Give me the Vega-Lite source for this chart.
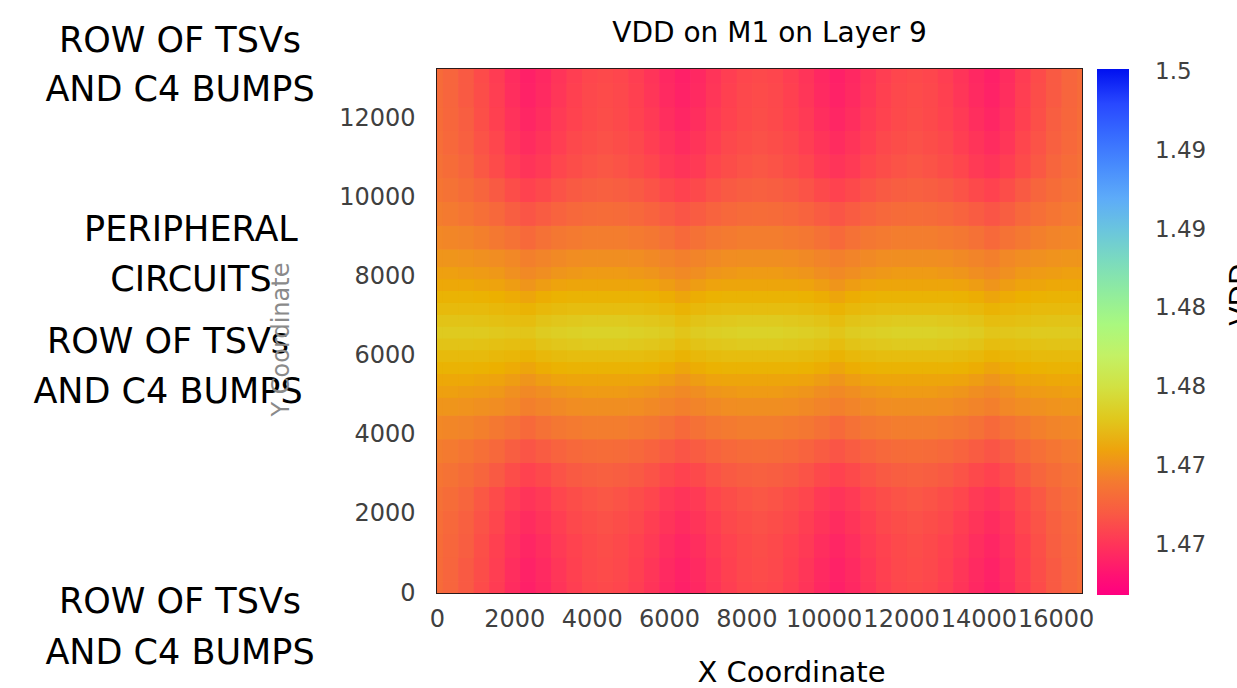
{
"$schema": "https://vega.github.io/schema/vega-lite/v6.json",
"width": 645, "height": 524,
"autosize": "none",
"padding": {"left": 437, "top": 69, "right": 155, "bottom": 95},
"background": "white",
"title": {"text": "VDD on M1 on Layer 9", "frame": "group", "anchor": "middle", "dx": 10, "offset": -46, "baseline": "alphabetic", "font": "DejaVu Sans", "fontSize": 28, "fontWeight": "normal", "color": "#000"},
"config": {"view": {"stroke": "#2a1a1a", "strokeWidth": 2}, "font": "DejaVu Sans"},
"datasets": {
"coarse": [
{"x":-60,"y":0,"v":1.473},{"x":340,"y":0,"v":1.4726},{"x":740,"y":0,"v":1.472},{"x":1140,"y":0,"v":1.4712},{"x":1540,"y":0,"v":1.4704},{"x":1940,"y":0,"v":1.4696},{"x":2340,"y":0,"v":1.469},{"x":2740,"y":0,"v":1.4694},{"x":3140,"y":0,"v":1.47},{"x":3540,"y":0,"v":1.4705},{"x":3940,"y":0,"v":1.4709},{"x":4340,"y":0,"v":1.4711},{"x":4740,"y":0,"v":1.4709},{"x":5140,"y":0,"v":1.4705},{"x":5540,"y":0,"v":1.47},{"x":5940,"y":0,"v":1.4694},{"x":6340,"y":0,"v":1.469},{"x":6740,"y":0,"v":1.4694},{"x":7140,"y":0,"v":1.47},{"x":7540,"y":0,"v":1.4705},{"x":7940,"y":0,"v":1.4709},{"x":8340,"y":0,"v":1.4711},{"x":8740,"y":0,"v":1.4709},{"x":9140,"y":0,"v":1.4705},{"x":9540,"y":0,"v":1.47},{"x":9940,"y":0,"v":1.4694},{"x":10340,"y":0,"v":1.469},{"x":10740,"y":0,"v":1.4694},{"x":11140,"y":0,"v":1.47},{"x":11540,"y":0,"v":1.4705},{"x":11940,"y":0,"v":1.4709},{"x":12340,"y":0,"v":1.4711},{"x":12740,"y":0,"v":1.4709},{"x":13140,"y":0,"v":1.4705},{"x":13540,"y":0,"v":1.47},{"x":13940,"y":0,"v":1.4694},{"x":14340,"y":0,"v":1.469},{"x":14740,"y":0,"v":1.4696},{"x":15140,"y":0,"v":1.4704},{"x":15540,"y":0,"v":1.4712},{"x":15940,"y":0,"v":1.472},{"x":16340,"y":0,"v":1.4726},{"x":16740,"y":0,"v":1.473},
{"x":-60,"y":600,"v":1.473},{"x":340,"y":600,"v":1.4726},{"x":740,"y":600,"v":1.472},{"x":1140,"y":600,"v":1.4713},{"x":1540,"y":600,"v":1.4705},{"x":1940,"y":600,"v":1.4697},{"x":2340,"y":600,"v":1.4691},{"x":2740,"y":600,"v":1.4695},{"x":3140,"y":600,"v":1.4701},{"x":3540,"y":600,"v":1.4706},{"x":3940,"y":600,"v":1.471},{"x":4340,"y":600,"v":1.4712},{"x":4740,"y":600,"v":1.471},{"x":5140,"y":600,"v":1.4706},{"x":5540,"y":600,"v":1.4701},{"x":5940,"y":600,"v":1.4695},{"x":6340,"y":600,"v":1.4691},{"x":6740,"y":600,"v":1.4695},{"x":7140,"y":600,"v":1.4701},{"x":7540,"y":600,"v":1.4706},{"x":7940,"y":600,"v":1.471},{"x":8340,"y":600,"v":1.4712},{"x":8740,"y":600,"v":1.471},{"x":9140,"y":600,"v":1.4706},{"x":9540,"y":600,"v":1.4701},{"x":9940,"y":600,"v":1.4695},{"x":10340,"y":600,"v":1.4691},{"x":10740,"y":600,"v":1.4695},{"x":11140,"y":600,"v":1.4701},{"x":11540,"y":600,"v":1.4706},{"x":11940,"y":600,"v":1.471},{"x":12340,"y":600,"v":1.4712},{"x":12740,"y":600,"v":1.471},{"x":13140,"y":600,"v":1.4706},{"x":13540,"y":600,"v":1.4701},{"x":13940,"y":600,"v":1.4695},{"x":14340,"y":600,"v":1.4691},{"x":14740,"y":600,"v":1.4697},{"x":15140,"y":600,"v":1.4705},{"x":15540,"y":600,"v":1.4713},{"x":15940,"y":600,"v":1.472},{"x":16340,"y":600,"v":1.4726},{"x":16740,"y":600,"v":1.473},
{"x":-60,"y":1200,"v":1.4731},{"x":340,"y":1200,"v":1.4727},{"x":740,"y":1200,"v":1.4722},{"x":1140,"y":1200,"v":1.4714},{"x":1540,"y":1200,"v":1.4706},{"x":1940,"y":1200,"v":1.4699},{"x":2340,"y":1200,"v":1.4693},{"x":2740,"y":1200,"v":1.4697},{"x":3140,"y":1200,"v":1.4703},{"x":3540,"y":1200,"v":1.4707},{"x":3940,"y":1200,"v":1.4711},{"x":4340,"y":1200,"v":1.4713},{"x":4740,"y":1200,"v":1.4711},{"x":5140,"y":1200,"v":1.4707},{"x":5540,"y":1200,"v":1.4703},{"x":5940,"y":1200,"v":1.4697},{"x":6340,"y":1200,"v":1.4693},{"x":6740,"y":1200,"v":1.4697},{"x":7140,"y":1200,"v":1.4703},{"x":7540,"y":1200,"v":1.4707},{"x":7940,"y":1200,"v":1.4711},{"x":8340,"y":1200,"v":1.4713},{"x":8740,"y":1200,"v":1.4711},{"x":9140,"y":1200,"v":1.4707},{"x":9540,"y":1200,"v":1.4703},{"x":9940,"y":1200,"v":1.4697},{"x":10340,"y":1200,"v":1.4693},{"x":10740,"y":1200,"v":1.4697},{"x":11140,"y":1200,"v":1.4703},{"x":11540,"y":1200,"v":1.4707},{"x":11940,"y":1200,"v":1.4711},{"x":12340,"y":1200,"v":1.4713},{"x":12740,"y":1200,"v":1.4711},{"x":13140,"y":1200,"v":1.4707},{"x":13540,"y":1200,"v":1.4703},{"x":13940,"y":1200,"v":1.4697},{"x":14340,"y":1200,"v":1.4693},{"x":14740,"y":1200,"v":1.4699},{"x":15140,"y":1200,"v":1.4706},{"x":15540,"y":1200,"v":1.4714},{"x":15940,"y":1200,"v":1.4722},{"x":16340,"y":1200,"v":1.4727},{"x":16740,"y":1200,"v":1.4731},
{"x":-60,"y":1800,"v":1.4732},{"x":340,"y":1800,"v":1.4728},{"x":740,"y":1800,"v":1.4723},{"x":1140,"y":1800,"v":1.4716},{"x":1540,"y":1800,"v":1.4709},{"x":1940,"y":1800,"v":1.4701},{"x":2340,"y":1800,"v":1.4696},{"x":2740,"y":1800,"v":1.47},{"x":3140,"y":1800,"v":1.4705},{"x":3540,"y":1800,"v":1.471},{"x":3940,"y":1800,"v":1.4713},{"x":4340,"y":1800,"v":1.4715},{"x":4740,"y":1800,"v":1.4713},{"x":5140,"y":1800,"v":1.471},{"x":5540,"y":1800,"v":1.4705},{"x":5940,"y":1800,"v":1.47},{"x":6340,"y":1800,"v":1.4696},{"x":6740,"y":1800,"v":1.47},{"x":7140,"y":1800,"v":1.4705},{"x":7540,"y":1800,"v":1.471},{"x":7940,"y":1800,"v":1.4713},{"x":8340,"y":1800,"v":1.4715},{"x":8740,"y":1800,"v":1.4713},{"x":9140,"y":1800,"v":1.471},{"x":9540,"y":1800,"v":1.4705},{"x":9940,"y":1800,"v":1.47},{"x":10340,"y":1800,"v":1.4696},{"x":10740,"y":1800,"v":1.47},{"x":11140,"y":1800,"v":1.4705},{"x":11540,"y":1800,"v":1.471},{"x":11940,"y":1800,"v":1.4713},{"x":12340,"y":1800,"v":1.4715},{"x":12740,"y":1800,"v":1.4713},{"x":13140,"y":1800,"v":1.471},{"x":13540,"y":1800,"v":1.4705},{"x":13940,"y":1800,"v":1.47},{"x":14340,"y":1800,"v":1.4696},{"x":14740,"y":1800,"v":1.4701},{"x":15140,"y":1800,"v":1.4709},{"x":15540,"y":1800,"v":1.4716},{"x":15940,"y":1800,"v":1.4723},{"x":16340,"y":1800,"v":1.4728},{"x":16740,"y":1800,"v":1.4732},
{"x":-60,"y":2400,"v":1.4734},{"x":340,"y":2400,"v":1.4731},{"x":740,"y":2400,"v":1.4726},{"x":1140,"y":2400,"v":1.4719},{"x":1540,"y":2400,"v":1.4712},{"x":1940,"y":2400,"v":1.4705},{"x":2340,"y":2400,"v":1.47},{"x":2740,"y":2400,"v":1.4703},{"x":3140,"y":2400,"v":1.4709},{"x":3540,"y":2400,"v":1.4713},{"x":3940,"y":2400,"v":1.4716},{"x":4340,"y":2400,"v":1.4718},{"x":4740,"y":2400,"v":1.4716},{"x":5140,"y":2400,"v":1.4713},{"x":5540,"y":2400,"v":1.4709},{"x":5940,"y":2400,"v":1.4703},{"x":6340,"y":2400,"v":1.47},{"x":6740,"y":2400,"v":1.4703},{"x":7140,"y":2400,"v":1.4709},{"x":7540,"y":2400,"v":1.4713},{"x":7940,"y":2400,"v":1.4716},{"x":8340,"y":2400,"v":1.4718},{"x":8740,"y":2400,"v":1.4716},{"x":9140,"y":2400,"v":1.4713},{"x":9540,"y":2400,"v":1.4709},{"x":9940,"y":2400,"v":1.4703},{"x":10340,"y":2400,"v":1.47},{"x":10740,"y":2400,"v":1.4703},{"x":11140,"y":2400,"v":1.4709},{"x":11540,"y":2400,"v":1.4713},{"x":11940,"y":2400,"v":1.4716},{"x":12340,"y":2400,"v":1.4718},{"x":12740,"y":2400,"v":1.4716},{"x":13140,"y":2400,"v":1.4713},{"x":13540,"y":2400,"v":1.4709},{"x":13940,"y":2400,"v":1.4703},{"x":14340,"y":2400,"v":1.47},{"x":14740,"y":2400,"v":1.4705},{"x":15140,"y":2400,"v":1.4712},{"x":15540,"y":2400,"v":1.4719},{"x":15940,"y":2400,"v":1.4726},{"x":16340,"y":2400,"v":1.4731},{"x":16740,"y":2400,"v":1.4734},
{"x":-60,"y":3000,"v":1.4737},{"x":340,"y":3000,"v":1.4735},{"x":740,"y":3000,"v":1.4731},{"x":1140,"y":3000,"v":1.4726},{"x":1540,"y":3000,"v":1.472},{"x":1940,"y":3000,"v":1.4713},{"x":2340,"y":3000,"v":1.4707},{"x":2740,"y":3000,"v":1.4711},{"x":3140,"y":3000,"v":1.4716},{"x":3540,"y":3000,"v":1.472},{"x":3940,"y":3000,"v":1.4722},{"x":4340,"y":3000,"v":1.4723},{"x":4740,"y":3000,"v":1.4722},{"x":5140,"y":3000,"v":1.472},{"x":5540,"y":3000,"v":1.4716},{"x":5940,"y":3000,"v":1.4711},{"x":6340,"y":3000,"v":1.4707},{"x":6740,"y":3000,"v":1.4711},{"x":7140,"y":3000,"v":1.4716},{"x":7540,"y":3000,"v":1.472},{"x":7940,"y":3000,"v":1.4722},{"x":8340,"y":3000,"v":1.4723},{"x":8740,"y":3000,"v":1.4722},{"x":9140,"y":3000,"v":1.472},{"x":9540,"y":3000,"v":1.4716},{"x":9940,"y":3000,"v":1.4711},{"x":10340,"y":3000,"v":1.4707},{"x":10740,"y":3000,"v":1.4711},{"x":11140,"y":3000,"v":1.4716},{"x":11540,"y":3000,"v":1.472},{"x":11940,"y":3000,"v":1.4722},{"x":12340,"y":3000,"v":1.4723},{"x":12740,"y":3000,"v":1.4722},{"x":13140,"y":3000,"v":1.472},{"x":13540,"y":3000,"v":1.4716},{"x":13940,"y":3000,"v":1.4711},{"x":14340,"y":3000,"v":1.4707},{"x":14740,"y":3000,"v":1.4713},{"x":15140,"y":3000,"v":1.472},{"x":15540,"y":3000,"v":1.4726},{"x":15940,"y":3000,"v":1.4731},{"x":16340,"y":3000,"v":1.4735},{"x":16740,"y":3000,"v":1.4737},
{"x":-60,"y":3600,"v":1.4742},{"x":340,"y":3600,"v":1.474},{"x":740,"y":3600,"v":1.4737},{"x":1140,"y":3600,"v":1.4733},{"x":1540,"y":3600,"v":1.4728},{"x":1940,"y":3600,"v":1.4722},{"x":2340,"y":3600,"v":1.4717},{"x":2740,"y":3600,"v":1.4721},{"x":3140,"y":3600,"v":1.4725},{"x":3540,"y":3600,"v":1.4728},{"x":3940,"y":3600,"v":1.473},{"x":4340,"y":3600,"v":1.4731},{"x":4740,"y":3600,"v":1.473},{"x":5140,"y":3600,"v":1.4728},{"x":5540,"y":3600,"v":1.4725},{"x":5940,"y":3600,"v":1.4721},{"x":6340,"y":3600,"v":1.4717},{"x":6740,"y":3600,"v":1.4721},{"x":7140,"y":3600,"v":1.4725},{"x":7540,"y":3600,"v":1.4728},{"x":7940,"y":3600,"v":1.473},{"x":8340,"y":3600,"v":1.4731},{"x":8740,"y":3600,"v":1.473},{"x":9140,"y":3600,"v":1.4728},{"x":9540,"y":3600,"v":1.4725},{"x":9940,"y":3600,"v":1.4721},{"x":10340,"y":3600,"v":1.4717},{"x":10740,"y":3600,"v":1.4721},{"x":11140,"y":3600,"v":1.4725},{"x":11540,"y":3600,"v":1.4728},{"x":11940,"y":3600,"v":1.473},{"x":12340,"y":3600,"v":1.4731},{"x":12740,"y":3600,"v":1.473},{"x":13140,"y":3600,"v":1.4728},{"x":13540,"y":3600,"v":1.4725},{"x":13940,"y":3600,"v":1.4721},{"x":14340,"y":3600,"v":1.4717},{"x":14740,"y":3600,"v":1.4722},{"x":15140,"y":3600,"v":1.4728},{"x":15540,"y":3600,"v":1.4733},{"x":15940,"y":3600,"v":1.4737},{"x":16340,"y":3600,"v":1.474},{"x":16740,"y":3600,"v":1.4742},
{"x":-60,"y":4200,"v":1.4748},{"x":340,"y":4200,"v":1.4747},{"x":740,"y":4200,"v":1.4746},{"x":1140,"y":4200,"v":1.4743},{"x":1540,"y":4200,"v":1.4739},{"x":1940,"y":4200,"v":1.4735},{"x":2340,"y":4200,"v":1.4729},{"x":2740,"y":4200,"v":1.4734},{"x":3140,"y":4200,"v":1.4738},{"x":3540,"y":4200,"v":1.474},{"x":3940,"y":4200,"v":1.4742},{"x":4340,"y":4200,"v":1.4742},{"x":4740,"y":4200,"v":1.4742},{"x":5140,"y":4200,"v":1.474},{"x":5540,"y":4200,"v":1.4738},{"x":5940,"y":4200,"v":1.4734},{"x":6340,"y":4200,"v":1.4729},{"x":6740,"y":4200,"v":1.4734},{"x":7140,"y":4200,"v":1.4738},{"x":7540,"y":4200,"v":1.474},{"x":7940,"y":4200,"v":1.4742},{"x":8340,"y":4200,"v":1.4742},{"x":8740,"y":4200,"v":1.4742},{"x":9140,"y":4200,"v":1.474},{"x":9540,"y":4200,"v":1.4738},{"x":9940,"y":4200,"v":1.4734},{"x":10340,"y":4200,"v":1.4729},{"x":10740,"y":4200,"v":1.4734},{"x":11140,"y":4200,"v":1.4738},{"x":11540,"y":4200,"v":1.474},{"x":11940,"y":4200,"v":1.4742},{"x":12340,"y":4200,"v":1.4742},{"x":12740,"y":4200,"v":1.4742},{"x":13140,"y":4200,"v":1.474},{"x":13540,"y":4200,"v":1.4738},{"x":13940,"y":4200,"v":1.4734},{"x":14340,"y":4200,"v":1.4729},{"x":14740,"y":4200,"v":1.4735},{"x":15140,"y":4200,"v":1.4739},{"x":15540,"y":4200,"v":1.4743},{"x":15940,"y":4200,"v":1.4746},{"x":16340,"y":4200,"v":1.4747},{"x":16740,"y":4200,"v":1.4748},
{"x":-60,"y":4800,"v":1.4755},{"x":340,"y":4800,"v":1.4755},{"x":740,"y":4800,"v":1.4754},{"x":1140,"y":4800,"v":1.4753},{"x":1540,"y":4800,"v":1.4751},{"x":1940,"y":4800,"v":1.4748},{"x":2340,"y":4800,"v":1.4743},{"x":2740,"y":4800,"v":1.4746},{"x":3140,"y":4800,"v":1.4749},{"x":3540,"y":4800,"v":1.4751},{"x":3940,"y":4800,"v":1.4752},{"x":4340,"y":4800,"v":1.4752},{"x":4740,"y":4800,"v":1.4752},{"x":5140,"y":4800,"v":1.4751},{"x":5540,"y":4800,"v":1.4749},{"x":5940,"y":4800,"v":1.4746},{"x":6340,"y":4800,"v":1.4743},{"x":6740,"y":4800,"v":1.4746},{"x":7140,"y":4800,"v":1.4749},{"x":7540,"y":4800,"v":1.4751},{"x":7940,"y":4800,"v":1.4752},{"x":8340,"y":4800,"v":1.4752},{"x":8740,"y":4800,"v":1.4752},{"x":9140,"y":4800,"v":1.4751},{"x":9540,"y":4800,"v":1.4749},{"x":9940,"y":4800,"v":1.4746},{"x":10340,"y":4800,"v":1.4743},{"x":10740,"y":4800,"v":1.4746},{"x":11140,"y":4800,"v":1.4749},{"x":11540,"y":4800,"v":1.4751},{"x":11940,"y":4800,"v":1.4752},{"x":12340,"y":4800,"v":1.4752},{"x":12740,"y":4800,"v":1.4752},{"x":13140,"y":4800,"v":1.4751},{"x":13540,"y":4800,"v":1.4749},{"x":13940,"y":4800,"v":1.4746},{"x":14340,"y":4800,"v":1.4743},{"x":14740,"y":4800,"v":1.4748},{"x":15140,"y":4800,"v":1.4751},{"x":15540,"y":4800,"v":1.4753},{"x":15940,"y":4800,"v":1.4754},{"x":16340,"y":4800,"v":1.4755},{"x":16740,"y":4800,"v":1.4755},
{"x":-60,"y":5400,"v":1.4762},{"x":340,"y":5400,"v":1.4762},{"x":740,"y":5400,"v":1.4762},{"x":1140,"y":5400,"v":1.4761},{"x":1540,"y":5400,"v":1.476},{"x":1940,"y":5400,"v":1.4758},{"x":2340,"y":5400,"v":1.4755},{"x":2740,"y":5400,"v":1.4758},{"x":3140,"y":5400,"v":1.476},{"x":3540,"y":5400,"v":1.4761},{"x":3940,"y":5400,"v":1.4761},{"x":4340,"y":5400,"v":1.4761},{"x":4740,"y":5400,"v":1.4761},{"x":5140,"y":5400,"v":1.4761},{"x":5540,"y":5400,"v":1.476},{"x":5940,"y":5400,"v":1.4758},{"x":6340,"y":5400,"v":1.4755},{"x":6740,"y":5400,"v":1.4758},{"x":7140,"y":5400,"v":1.476},{"x":7540,"y":5400,"v":1.4761},{"x":7940,"y":5400,"v":1.4761},{"x":8340,"y":5400,"v":1.4761},{"x":8740,"y":5400,"v":1.4761},{"x":9140,"y":5400,"v":1.4761},{"x":9540,"y":5400,"v":1.476},{"x":9940,"y":5400,"v":1.4758},{"x":10340,"y":5400,"v":1.4755},{"x":10740,"y":5400,"v":1.4758},{"x":11140,"y":5400,"v":1.476},{"x":11540,"y":5400,"v":1.4761},{"x":11940,"y":5400,"v":1.4761},{"x":12340,"y":5400,"v":1.4761},{"x":12740,"y":5400,"v":1.4761},{"x":13140,"y":5400,"v":1.4761},{"x":13540,"y":5400,"v":1.476},{"x":13940,"y":5400,"v":1.4758},{"x":14340,"y":5400,"v":1.4755},{"x":14740,"y":5400,"v":1.4758},{"x":15140,"y":5400,"v":1.476},{"x":15540,"y":5400,"v":1.4761},{"x":15940,"y":5400,"v":1.4762},{"x":16340,"y":5400,"v":1.4762},{"x":16740,"y":5400,"v":1.4762},
{"x":-60,"y":6000,"v":1.4771},{"x":340,"y":6000,"v":1.4771},{"x":740,"y":6000,"v":1.4771},{"x":1140,"y":6000,"v":1.4771},{"x":1540,"y":6000,"v":1.477},{"x":1940,"y":6000,"v":1.4769},{"x":2340,"y":6000,"v":1.4767},{"x":2740,"y":6000,"v":1.477},{"x":3140,"y":6000,"v":1.4772},{"x":3540,"y":6000,"v":1.4773},{"x":3940,"y":6000,"v":1.4773},{"x":4340,"y":6000,"v":1.4773},{"x":4740,"y":6000,"v":1.4773},{"x":5140,"y":6000,"v":1.4773},{"x":5540,"y":6000,"v":1.4772},{"x":5940,"y":6000,"v":1.477},{"x":6340,"y":6000,"v":1.4767},{"x":6740,"y":6000,"v":1.477},{"x":7140,"y":6000,"v":1.4772},{"x":7540,"y":6000,"v":1.4773},{"x":7940,"y":6000,"v":1.4773},{"x":8340,"y":6000,"v":1.4773},{"x":8740,"y":6000,"v":1.4773},{"x":9140,"y":6000,"v":1.4773},{"x":9540,"y":6000,"v":1.4772},{"x":9940,"y":6000,"v":1.477},{"x":10340,"y":6000,"v":1.4767},{"x":10740,"y":6000,"v":1.477},{"x":11140,"y":6000,"v":1.4772},{"x":11540,"y":6000,"v":1.4773},{"x":11940,"y":6000,"v":1.4773},{"x":12340,"y":6000,"v":1.4773},{"x":12740,"y":6000,"v":1.4773},{"x":13140,"y":6000,"v":1.4773},{"x":13540,"y":6000,"v":1.4772},{"x":13940,"y":6000,"v":1.477},{"x":14340,"y":6000,"v":1.4767},{"x":14740,"y":6000,"v":1.4769},{"x":15140,"y":6000,"v":1.477},{"x":15540,"y":6000,"v":1.4771},{"x":15940,"y":6000,"v":1.4771},{"x":16340,"y":6000,"v":1.4771},{"x":16740,"y":6000,"v":1.4771},
{"x":-60,"y":6600,"v":1.4781},{"x":340,"y":6600,"v":1.4781},{"x":740,"y":6600,"v":1.4781},{"x":1140,"y":6600,"v":1.4781},{"x":1540,"y":6600,"v":1.478},{"x":1940,"y":6600,"v":1.4779},{"x":2340,"y":6600,"v":1.4778},{"x":2740,"y":6600,"v":1.4782},{"x":3140,"y":6600,"v":1.4784},{"x":3540,"y":6600,"v":1.4785},{"x":3940,"y":6600,"v":1.4786},{"x":4340,"y":6600,"v":1.4786},{"x":4740,"y":6600,"v":1.4786},{"x":5140,"y":6600,"v":1.4785},{"x":5540,"y":6600,"v":1.4784},{"x":5940,"y":6600,"v":1.4782},{"x":6340,"y":6600,"v":1.4778},{"x":6740,"y":6600,"v":1.4782},{"x":7140,"y":6600,"v":1.4784},{"x":7540,"y":6600,"v":1.4785},{"x":7940,"y":6600,"v":1.4786},{"x":8340,"y":6600,"v":1.4786},{"x":8740,"y":6600,"v":1.4786},{"x":9140,"y":6600,"v":1.4785},{"x":9540,"y":6600,"v":1.4784},{"x":9940,"y":6600,"v":1.4782},{"x":10340,"y":6600,"v":1.4778},{"x":10740,"y":6600,"v":1.4782},{"x":11140,"y":6600,"v":1.4784},{"x":11540,"y":6600,"v":1.4785},{"x":11940,"y":6600,"v":1.4786},{"x":12340,"y":6600,"v":1.4786},{"x":12740,"y":6600,"v":1.4786},{"x":13140,"y":6600,"v":1.4785},{"x":13540,"y":6600,"v":1.4784},{"x":13940,"y":6600,"v":1.4782},{"x":14340,"y":6600,"v":1.4778},{"x":14740,"y":6600,"v":1.4779},{"x":15140,"y":6600,"v":1.478},{"x":15540,"y":6600,"v":1.4781},{"x":15940,"y":6600,"v":1.4781},{"x":16340,"y":6600,"v":1.4781},{"x":16740,"y":6600,"v":1.4781},
{"x":-60,"y":7200,"v":1.4771},{"x":340,"y":7200,"v":1.4771},{"x":740,"y":7200,"v":1.4771},{"x":1140,"y":7200,"v":1.4771},{"x":1540,"y":7200,"v":1.477},{"x":1940,"y":7200,"v":1.4769},{"x":2340,"y":7200,"v":1.4767},{"x":2740,"y":7200,"v":1.477},{"x":3140,"y":7200,"v":1.4772},{"x":3540,"y":7200,"v":1.4773},{"x":3940,"y":7200,"v":1.4773},{"x":4340,"y":7200,"v":1.4773},{"x":4740,"y":7200,"v":1.4773},{"x":5140,"y":7200,"v":1.4773},{"x":5540,"y":7200,"v":1.4772},{"x":5940,"y":7200,"v":1.477},{"x":6340,"y":7200,"v":1.4767},{"x":6740,"y":7200,"v":1.477},{"x":7140,"y":7200,"v":1.4772},{"x":7540,"y":7200,"v":1.4773},{"x":7940,"y":7200,"v":1.4773},{"x":8340,"y":7200,"v":1.4773},{"x":8740,"y":7200,"v":1.4773},{"x":9140,"y":7200,"v":1.4773},{"x":9540,"y":7200,"v":1.4772},{"x":9940,"y":7200,"v":1.477},{"x":10340,"y":7200,"v":1.4767},{"x":10740,"y":7200,"v":1.477},{"x":11140,"y":7200,"v":1.4772},{"x":11540,"y":7200,"v":1.4773},{"x":11940,"y":7200,"v":1.4773},{"x":12340,"y":7200,"v":1.4773},{"x":12740,"y":7200,"v":1.4773},{"x":13140,"y":7200,"v":1.4773},{"x":13540,"y":7200,"v":1.4772},{"x":13940,"y":7200,"v":1.477},{"x":14340,"y":7200,"v":1.4767},{"x":14740,"y":7200,"v":1.4769},{"x":15140,"y":7200,"v":1.477},{"x":15540,"y":7200,"v":1.4771},{"x":15940,"y":7200,"v":1.4771},{"x":16340,"y":7200,"v":1.4771},{"x":16740,"y":7200,"v":1.4771},
{"x":-60,"y":7800,"v":1.4762},{"x":340,"y":7800,"v":1.4762},{"x":740,"y":7800,"v":1.4762},{"x":1140,"y":7800,"v":1.4761},{"x":1540,"y":7800,"v":1.476},{"x":1940,"y":7800,"v":1.4758},{"x":2340,"y":7800,"v":1.4755},{"x":2740,"y":7800,"v":1.4758},{"x":3140,"y":7800,"v":1.476},{"x":3540,"y":7800,"v":1.4761},{"x":3940,"y":7800,"v":1.4761},{"x":4340,"y":7800,"v":1.4761},{"x":4740,"y":7800,"v":1.4761},{"x":5140,"y":7800,"v":1.4761},{"x":5540,"y":7800,"v":1.476},{"x":5940,"y":7800,"v":1.4758},{"x":6340,"y":7800,"v":1.4755},{"x":6740,"y":7800,"v":1.4758},{"x":7140,"y":7800,"v":1.476},{"x":7540,"y":7800,"v":1.4761},{"x":7940,"y":7800,"v":1.4761},{"x":8340,"y":7800,"v":1.4761},{"x":8740,"y":7800,"v":1.4761},{"x":9140,"y":7800,"v":1.4761},{"x":9540,"y":7800,"v":1.476},{"x":9940,"y":7800,"v":1.4758},{"x":10340,"y":7800,"v":1.4755},{"x":10740,"y":7800,"v":1.4758},{"x":11140,"y":7800,"v":1.476},{"x":11540,"y":7800,"v":1.4761},{"x":11940,"y":7800,"v":1.4761},{"x":12340,"y":7800,"v":1.4761},{"x":12740,"y":7800,"v":1.4761},{"x":13140,"y":7800,"v":1.4761},{"x":13540,"y":7800,"v":1.476},{"x":13940,"y":7800,"v":1.4758},{"x":14340,"y":7800,"v":1.4755},{"x":14740,"y":7800,"v":1.4758},{"x":15140,"y":7800,"v":1.476},{"x":15540,"y":7800,"v":1.4761},{"x":15940,"y":7800,"v":1.4762},{"x":16340,"y":7800,"v":1.4762},{"x":16740,"y":7800,"v":1.4762},
{"x":-60,"y":8400,"v":1.4755},{"x":340,"y":8400,"v":1.4755},{"x":740,"y":8400,"v":1.4754},{"x":1140,"y":8400,"v":1.4753},{"x":1540,"y":8400,"v":1.4751},{"x":1940,"y":8400,"v":1.4748},{"x":2340,"y":8400,"v":1.4743},{"x":2740,"y":8400,"v":1.4746},{"x":3140,"y":8400,"v":1.4749},{"x":3540,"y":8400,"v":1.4751},{"x":3940,"y":8400,"v":1.4752},{"x":4340,"y":8400,"v":1.4752},{"x":4740,"y":8400,"v":1.4752},{"x":5140,"y":8400,"v":1.4751},{"x":5540,"y":8400,"v":1.4749},{"x":5940,"y":8400,"v":1.4746},{"x":6340,"y":8400,"v":1.4743},{"x":6740,"y":8400,"v":1.4746},{"x":7140,"y":8400,"v":1.4749},{"x":7540,"y":8400,"v":1.4751},{"x":7940,"y":8400,"v":1.4752},{"x":8340,"y":8400,"v":1.4752},{"x":8740,"y":8400,"v":1.4752},{"x":9140,"y":8400,"v":1.4751},{"x":9540,"y":8400,"v":1.4749},{"x":9940,"y":8400,"v":1.4746},{"x":10340,"y":8400,"v":1.4743},{"x":10740,"y":8400,"v":1.4746},{"x":11140,"y":8400,"v":1.4749},{"x":11540,"y":8400,"v":1.4751},{"x":11940,"y":8400,"v":1.4752},{"x":12340,"y":8400,"v":1.4752},{"x":12740,"y":8400,"v":1.4752},{"x":13140,"y":8400,"v":1.4751},{"x":13540,"y":8400,"v":1.4749},{"x":13940,"y":8400,"v":1.4746},{"x":14340,"y":8400,"v":1.4743},{"x":14740,"y":8400,"v":1.4748},{"x":15140,"y":8400,"v":1.4751},{"x":15540,"y":8400,"v":1.4753},{"x":15940,"y":8400,"v":1.4754},{"x":16340,"y":8400,"v":1.4755},{"x":16740,"y":8400,"v":1.4755},
{"x":-60,"y":9000,"v":1.4748},{"x":340,"y":9000,"v":1.4747},{"x":740,"y":9000,"v":1.4746},{"x":1140,"y":9000,"v":1.4743},{"x":1540,"y":9000,"v":1.4739},{"x":1940,"y":9000,"v":1.4735},{"x":2340,"y":9000,"v":1.4729},{"x":2740,"y":9000,"v":1.4734},{"x":3140,"y":9000,"v":1.4738},{"x":3540,"y":9000,"v":1.474},{"x":3940,"y":9000,"v":1.4742},{"x":4340,"y":9000,"v":1.4742},{"x":4740,"y":9000,"v":1.4742},{"x":5140,"y":9000,"v":1.474},{"x":5540,"y":9000,"v":1.4738},{"x":5940,"y":9000,"v":1.4734},{"x":6340,"y":9000,"v":1.4729},{"x":6740,"y":9000,"v":1.4734},{"x":7140,"y":9000,"v":1.4738},{"x":7540,"y":9000,"v":1.474},{"x":7940,"y":9000,"v":1.4742},{"x":8340,"y":9000,"v":1.4742},{"x":8740,"y":9000,"v":1.4742},{"x":9140,"y":9000,"v":1.474},{"x":9540,"y":9000,"v":1.4738},{"x":9940,"y":9000,"v":1.4734},{"x":10340,"y":9000,"v":1.4729},{"x":10740,"y":9000,"v":1.4734},{"x":11140,"y":9000,"v":1.4738},{"x":11540,"y":9000,"v":1.474},{"x":11940,"y":9000,"v":1.4742},{"x":12340,"y":9000,"v":1.4742},{"x":12740,"y":9000,"v":1.4742},{"x":13140,"y":9000,"v":1.474},{"x":13540,"y":9000,"v":1.4738},{"x":13940,"y":9000,"v":1.4734},{"x":14340,"y":9000,"v":1.4729},{"x":14740,"y":9000,"v":1.4735},{"x":15140,"y":9000,"v":1.4739},{"x":15540,"y":9000,"v":1.4743},{"x":15940,"y":9000,"v":1.4746},{"x":16340,"y":9000,"v":1.4747},{"x":16740,"y":9000,"v":1.4748},
{"x":-60,"y":9600,"v":1.4742},{"x":340,"y":9600,"v":1.474},{"x":740,"y":9600,"v":1.4737},{"x":1140,"y":9600,"v":1.4733},{"x":1540,"y":9600,"v":1.4728},{"x":1940,"y":9600,"v":1.4722},{"x":2340,"y":9600,"v":1.4717},{"x":2740,"y":9600,"v":1.4721},{"x":3140,"y":9600,"v":1.4725},{"x":3540,"y":9600,"v":1.4728},{"x":3940,"y":9600,"v":1.473},{"x":4340,"y":9600,"v":1.4731},{"x":4740,"y":9600,"v":1.473},{"x":5140,"y":9600,"v":1.4728},{"x":5540,"y":9600,"v":1.4725},{"x":5940,"y":9600,"v":1.4721},{"x":6340,"y":9600,"v":1.4717},{"x":6740,"y":9600,"v":1.4721},{"x":7140,"y":9600,"v":1.4725},{"x":7540,"y":9600,"v":1.4728},{"x":7940,"y":9600,"v":1.473},{"x":8340,"y":9600,"v":1.4731},{"x":8740,"y":9600,"v":1.473},{"x":9140,"y":9600,"v":1.4728},{"x":9540,"y":9600,"v":1.4725},{"x":9940,"y":9600,"v":1.4721},{"x":10340,"y":9600,"v":1.4717},{"x":10740,"y":9600,"v":1.4721},{"x":11140,"y":9600,"v":1.4725},{"x":11540,"y":9600,"v":1.4728},{"x":11940,"y":9600,"v":1.473},{"x":12340,"y":9600,"v":1.4731},{"x":12740,"y":9600,"v":1.473},{"x":13140,"y":9600,"v":1.4728},{"x":13540,"y":9600,"v":1.4725},{"x":13940,"y":9600,"v":1.4721},{"x":14340,"y":9600,"v":1.4717},{"x":14740,"y":9600,"v":1.4722},{"x":15140,"y":9600,"v":1.4728},{"x":15540,"y":9600,"v":1.4733},{"x":15940,"y":9600,"v":1.4737},{"x":16340,"y":9600,"v":1.474},{"x":16740,"y":9600,"v":1.4742},
{"x":-60,"y":10200,"v":1.4737},{"x":340,"y":10200,"v":1.4735},{"x":740,"y":10200,"v":1.4731},{"x":1140,"y":10200,"v":1.4726},{"x":1540,"y":10200,"v":1.472},{"x":1940,"y":10200,"v":1.4713},{"x":2340,"y":10200,"v":1.4707},{"x":2740,"y":10200,"v":1.4711},{"x":3140,"y":10200,"v":1.4716},{"x":3540,"y":10200,"v":1.472},{"x":3940,"y":10200,"v":1.4722},{"x":4340,"y":10200,"v":1.4723},{"x":4740,"y":10200,"v":1.4722},{"x":5140,"y":10200,"v":1.472},{"x":5540,"y":10200,"v":1.4716},{"x":5940,"y":10200,"v":1.4711},{"x":6340,"y":10200,"v":1.4707},{"x":6740,"y":10200,"v":1.4711},{"x":7140,"y":10200,"v":1.4716},{"x":7540,"y":10200,"v":1.472},{"x":7940,"y":10200,"v":1.4722},{"x":8340,"y":10200,"v":1.4723},{"x":8740,"y":10200,"v":1.4722},{"x":9140,"y":10200,"v":1.472},{"x":9540,"y":10200,"v":1.4716},{"x":9940,"y":10200,"v":1.4711},{"x":10340,"y":10200,"v":1.4707},{"x":10740,"y":10200,"v":1.4711},{"x":11140,"y":10200,"v":1.4716},{"x":11540,"y":10200,"v":1.472},{"x":11940,"y":10200,"v":1.4722},{"x":12340,"y":10200,"v":1.4723},{"x":12740,"y":10200,"v":1.4722},{"x":13140,"y":10200,"v":1.472},{"x":13540,"y":10200,"v":1.4716},{"x":13940,"y":10200,"v":1.4711},{"x":14340,"y":10200,"v":1.4707},{"x":14740,"y":10200,"v":1.4713},{"x":15140,"y":10200,"v":1.472},{"x":15540,"y":10200,"v":1.4726},{"x":15940,"y":10200,"v":1.4731},{"x":16340,"y":10200,"v":1.4735},{"x":16740,"y":10200,"v":1.4737},
{"x":-60,"y":10800,"v":1.4734},{"x":340,"y":10800,"v":1.4731},{"x":740,"y":10800,"v":1.4726},{"x":1140,"y":10800,"v":1.4719},{"x":1540,"y":10800,"v":1.4712},{"x":1940,"y":10800,"v":1.4705},{"x":2340,"y":10800,"v":1.47},{"x":2740,"y":10800,"v":1.4703},{"x":3140,"y":10800,"v":1.4709},{"x":3540,"y":10800,"v":1.4713},{"x":3940,"y":10800,"v":1.4716},{"x":4340,"y":10800,"v":1.4718},{"x":4740,"y":10800,"v":1.4716},{"x":5140,"y":10800,"v":1.4713},{"x":5540,"y":10800,"v":1.4709},{"x":5940,"y":10800,"v":1.4703},{"x":6340,"y":10800,"v":1.47},{"x":6740,"y":10800,"v":1.4703},{"x":7140,"y":10800,"v":1.4709},{"x":7540,"y":10800,"v":1.4713},{"x":7940,"y":10800,"v":1.4716},{"x":8340,"y":10800,"v":1.4718},{"x":8740,"y":10800,"v":1.4716},{"x":9140,"y":10800,"v":1.4713},{"x":9540,"y":10800,"v":1.4709},{"x":9940,"y":10800,"v":1.4703},{"x":10340,"y":10800,"v":1.47},{"x":10740,"y":10800,"v":1.4703},{"x":11140,"y":10800,"v":1.4709},{"x":11540,"y":10800,"v":1.4713},{"x":11940,"y":10800,"v":1.4716},{"x":12340,"y":10800,"v":1.4718},{"x":12740,"y":10800,"v":1.4716},{"x":13140,"y":10800,"v":1.4713},{"x":13540,"y":10800,"v":1.4709},{"x":13940,"y":10800,"v":1.4703},{"x":14340,"y":10800,"v":1.47},{"x":14740,"y":10800,"v":1.4705},{"x":15140,"y":10800,"v":1.4712},{"x":15540,"y":10800,"v":1.4719},{"x":15940,"y":10800,"v":1.4726},{"x":16340,"y":10800,"v":1.4731},{"x":16740,"y":10800,"v":1.4734},
{"x":-60,"y":11400,"v":1.4732},{"x":340,"y":11400,"v":1.4728},{"x":740,"y":11400,"v":1.4723},{"x":1140,"y":11400,"v":1.4716},{"x":1540,"y":11400,"v":1.4709},{"x":1940,"y":11400,"v":1.4701},{"x":2340,"y":11400,"v":1.4696},{"x":2740,"y":11400,"v":1.47},{"x":3140,"y":11400,"v":1.4705},{"x":3540,"y":11400,"v":1.471},{"x":3940,"y":11400,"v":1.4713},{"x":4340,"y":11400,"v":1.4715},{"x":4740,"y":11400,"v":1.4713},{"x":5140,"y":11400,"v":1.471},{"x":5540,"y":11400,"v":1.4705},{"x":5940,"y":11400,"v":1.47},{"x":6340,"y":11400,"v":1.4696},{"x":6740,"y":11400,"v":1.47},{"x":7140,"y":11400,"v":1.4705},{"x":7540,"y":11400,"v":1.471},{"x":7940,"y":11400,"v":1.4713},{"x":8340,"y":11400,"v":1.4715},{"x":8740,"y":11400,"v":1.4713},{"x":9140,"y":11400,"v":1.471},{"x":9540,"y":11400,"v":1.4705},{"x":9940,"y":11400,"v":1.47},{"x":10340,"y":11400,"v":1.4696},{"x":10740,"y":11400,"v":1.47},{"x":11140,"y":11400,"v":1.4705},{"x":11540,"y":11400,"v":1.471},{"x":11940,"y":11400,"v":1.4713},{"x":12340,"y":11400,"v":1.4715},{"x":12740,"y":11400,"v":1.4713},{"x":13140,"y":11400,"v":1.471},{"x":13540,"y":11400,"v":1.4705},{"x":13940,"y":11400,"v":1.47},{"x":14340,"y":11400,"v":1.4696},{"x":14740,"y":11400,"v":1.4701},{"x":15140,"y":11400,"v":1.4709},{"x":15540,"y":11400,"v":1.4716},{"x":15940,"y":11400,"v":1.4723},{"x":16340,"y":11400,"v":1.4728},{"x":16740,"y":11400,"v":1.4732},
{"x":-60,"y":12000,"v":1.4731},{"x":340,"y":12000,"v":1.4727},{"x":740,"y":12000,"v":1.4722},{"x":1140,"y":12000,"v":1.4714},{"x":1540,"y":12000,"v":1.4706},{"x":1940,"y":12000,"v":1.4699},{"x":2340,"y":12000,"v":1.4693},{"x":2740,"y":12000,"v":1.4697},{"x":3140,"y":12000,"v":1.4703},{"x":3540,"y":12000,"v":1.4707},{"x":3940,"y":12000,"v":1.4711},{"x":4340,"y":12000,"v":1.4713},{"x":4740,"y":12000,"v":1.4711},{"x":5140,"y":12000,"v":1.4707},{"x":5540,"y":12000,"v":1.4703},{"x":5940,"y":12000,"v":1.4697},{"x":6340,"y":12000,"v":1.4693},{"x":6740,"y":12000,"v":1.4697},{"x":7140,"y":12000,"v":1.4703},{"x":7540,"y":12000,"v":1.4707},{"x":7940,"y":12000,"v":1.4711},{"x":8340,"y":12000,"v":1.4713},{"x":8740,"y":12000,"v":1.4711},{"x":9140,"y":12000,"v":1.4707},{"x":9540,"y":12000,"v":1.4703},{"x":9940,"y":12000,"v":1.4697},{"x":10340,"y":12000,"v":1.4693},{"x":10740,"y":12000,"v":1.4697},{"x":11140,"y":12000,"v":1.4703},{"x":11540,"y":12000,"v":1.4707},{"x":11940,"y":12000,"v":1.4711},{"x":12340,"y":12000,"v":1.4713},{"x":12740,"y":12000,"v":1.4711},{"x":13140,"y":12000,"v":1.4707},{"x":13540,"y":12000,"v":1.4703},{"x":13940,"y":12000,"v":1.4697},{"x":14340,"y":12000,"v":1.4693},{"x":14740,"y":12000,"v":1.4699},{"x":15140,"y":12000,"v":1.4706},{"x":15540,"y":12000,"v":1.4714},{"x":15940,"y":12000,"v":1.4722},{"x":16340,"y":12000,"v":1.4727},{"x":16740,"y":12000,"v":1.4731},
{"x":-60,"y":12600,"v":1.473},{"x":340,"y":12600,"v":1.4726},{"x":740,"y":12600,"v":1.472},{"x":1140,"y":12600,"v":1.4713},{"x":1540,"y":12600,"v":1.4705},{"x":1940,"y":12600,"v":1.4697},{"x":2340,"y":12600,"v":1.4691},{"x":2740,"y":12600,"v":1.4695},{"x":3140,"y":12600,"v":1.4701},{"x":3540,"y":12600,"v":1.4706},{"x":3940,"y":12600,"v":1.471},{"x":4340,"y":12600,"v":1.4712},{"x":4740,"y":12600,"v":1.471},{"x":5140,"y":12600,"v":1.4706},{"x":5540,"y":12600,"v":1.4701},{"x":5940,"y":12600,"v":1.4695},{"x":6340,"y":12600,"v":1.4691},{"x":6740,"y":12600,"v":1.4695},{"x":7140,"y":12600,"v":1.4701},{"x":7540,"y":12600,"v":1.4706},{"x":7940,"y":12600,"v":1.471},{"x":8340,"y":12600,"v":1.4712},{"x":8740,"y":12600,"v":1.471},{"x":9140,"y":12600,"v":1.4706},{"x":9540,"y":12600,"v":1.4701},{"x":9940,"y":12600,"v":1.4695},{"x":10340,"y":12600,"v":1.4691},{"x":10740,"y":12600,"v":1.4695},{"x":11140,"y":12600,"v":1.4701},{"x":11540,"y":12600,"v":1.4706},{"x":11940,"y":12600,"v":1.471},{"x":12340,"y":12600,"v":1.4712},{"x":12740,"y":12600,"v":1.471},{"x":13140,"y":12600,"v":1.4706},{"x":13540,"y":12600,"v":1.4701},{"x":13940,"y":12600,"v":1.4695},{"x":14340,"y":12600,"v":1.4691},{"x":14740,"y":12600,"v":1.4697},{"x":15140,"y":12600,"v":1.4705},{"x":15540,"y":12600,"v":1.4713},{"x":15940,"y":12600,"v":1.472},{"x":16340,"y":12600,"v":1.4726},{"x":16740,"y":12600,"v":1.473},
{"x":-60,"y":13200,"v":1.473},{"x":340,"y":13200,"v":1.4726},{"x":740,"y":13200,"v":1.472},{"x":1140,"y":13200,"v":1.4712},{"x":1540,"y":13200,"v":1.4704},{"x":1940,"y":13200,"v":1.4696},{"x":2340,"y":13200,"v":1.469},{"x":2740,"y":13200,"v":1.4694},{"x":3140,"y":13200,"v":1.47},{"x":3540,"y":13200,"v":1.4705},{"x":3940,"y":13200,"v":1.4709},{"x":4340,"y":13200,"v":1.4711},{"x":4740,"y":13200,"v":1.4709},{"x":5140,"y":13200,"v":1.4705},{"x":5540,"y":13200,"v":1.47},{"x":5940,"y":13200,"v":1.4694},{"x":6340,"y":13200,"v":1.469},{"x":6740,"y":13200,"v":1.4694},{"x":7140,"y":13200,"v":1.47},{"x":7540,"y":13200,"v":1.4705},{"x":7940,"y":13200,"v":1.4709},{"x":8340,"y":13200,"v":1.4711},{"x":8740,"y":13200,"v":1.4709},{"x":9140,"y":13200,"v":1.4705},{"x":9540,"y":13200,"v":1.47},{"x":9940,"y":13200,"v":1.4694},{"x":10340,"y":13200,"v":1.469},{"x":10740,"y":13200,"v":1.4694},{"x":11140,"y":13200,"v":1.47},{"x":11540,"y":13200,"v":1.4705},{"x":11940,"y":13200,"v":1.4709},{"x":12340,"y":13200,"v":1.4711},{"x":12740,"y":13200,"v":1.4709},{"x":13140,"y":13200,"v":1.4705},{"x":13540,"y":13200,"v":1.47},{"x":13940,"y":13200,"v":1.4694},{"x":14340,"y":13200,"v":1.469},{"x":14740,"y":13200,"v":1.4696},{"x":15140,"y":13200,"v":1.4704},{"x":15540,"y":13200,"v":1.4712},{"x":15940,"y":13200,"v":1.472},{"x":16340,"y":13200,"v":1.4726},{"x":16740,"y":13200,"v":1.473}
],
"fine": [
{"x":-60,"y":5100,"v":1.4759},{"x":340,"y":5100,"v":1.4759},{"x":740,"y":5100,"v":1.4758},{"x":1140,"y":5100,"v":1.4757},{"x":1540,"y":5100,"v":1.4756},{"x":1940,"y":5100,"v":1.4753},{"x":2340,"y":5100,"v":1.4749},{"x":2740,"y":5100,"v":1.4752},{"x":3140,"y":5100,"v":1.4755},{"x":3540,"y":5100,"v":1.4756},{"x":3940,"y":5100,"v":1.4757},{"x":4340,"y":5100,"v":1.4757},{"x":4740,"y":5100,"v":1.4757},{"x":5140,"y":5100,"v":1.4756},{"x":5540,"y":5100,"v":1.4755},{"x":5940,"y":5100,"v":1.4752},{"x":6340,"y":5100,"v":1.4749},{"x":6740,"y":5100,"v":1.4752},{"x":7140,"y":5100,"v":1.4755},{"x":7540,"y":5100,"v":1.4756},{"x":7940,"y":5100,"v":1.4757},{"x":8340,"y":5100,"v":1.4757},{"x":8740,"y":5100,"v":1.4757},{"x":9140,"y":5100,"v":1.4756},{"x":9540,"y":5100,"v":1.4755},{"x":9940,"y":5100,"v":1.4752},{"x":10340,"y":5100,"v":1.4749},{"x":10740,"y":5100,"v":1.4752},{"x":11140,"y":5100,"v":1.4755},{"x":11540,"y":5100,"v":1.4756},{"x":11940,"y":5100,"v":1.4757},{"x":12340,"y":5100,"v":1.4757},{"x":12740,"y":5100,"v":1.4757},{"x":13140,"y":5100,"v":1.4756},{"x":13540,"y":5100,"v":1.4755},{"x":13940,"y":5100,"v":1.4752},{"x":14340,"y":5100,"v":1.4749},{"x":14740,"y":5100,"v":1.4753},{"x":15140,"y":5100,"v":1.4756},{"x":15540,"y":5100,"v":1.4757},{"x":15940,"y":5100,"v":1.4758},{"x":16340,"y":5100,"v":1.4759},{"x":16740,"y":5100,"v":1.4759},
{"x":-60,"y":5400,"v":1.4762},{"x":340,"y":5400,"v":1.4762},{"x":740,"y":5400,"v":1.4762},{"x":1140,"y":5400,"v":1.4761},{"x":1540,"y":5400,"v":1.476},{"x":1940,"y":5400,"v":1.4758},{"x":2340,"y":5400,"v":1.4755},{"x":2740,"y":5400,"v":1.4758},{"x":3140,"y":5400,"v":1.476},{"x":3540,"y":5400,"v":1.4761},{"x":3940,"y":5400,"v":1.4761},{"x":4340,"y":5400,"v":1.4761},{"x":4740,"y":5400,"v":1.4761},{"x":5140,"y":5400,"v":1.4761},{"x":5540,"y":5400,"v":1.476},{"x":5940,"y":5400,"v":1.4758},{"x":6340,"y":5400,"v":1.4755},{"x":6740,"y":5400,"v":1.4758},{"x":7140,"y":5400,"v":1.476},{"x":7540,"y":5400,"v":1.4761},{"x":7940,"y":5400,"v":1.4761},{"x":8340,"y":5400,"v":1.4761},{"x":8740,"y":5400,"v":1.4761},{"x":9140,"y":5400,"v":1.4761},{"x":9540,"y":5400,"v":1.476},{"x":9940,"y":5400,"v":1.4758},{"x":10340,"y":5400,"v":1.4755},{"x":10740,"y":5400,"v":1.4758},{"x":11140,"y":5400,"v":1.476},{"x":11540,"y":5400,"v":1.4761},{"x":11940,"y":5400,"v":1.4761},{"x":12340,"y":5400,"v":1.4761},{"x":12740,"y":5400,"v":1.4761},{"x":13140,"y":5400,"v":1.4761},{"x":13540,"y":5400,"v":1.476},{"x":13940,"y":5400,"v":1.4758},{"x":14340,"y":5400,"v":1.4755},{"x":14740,"y":5400,"v":1.4758},{"x":15140,"y":5400,"v":1.476},{"x":15540,"y":5400,"v":1.4761},{"x":15940,"y":5400,"v":1.4762},{"x":16340,"y":5400,"v":1.4762},{"x":16740,"y":5400,"v":1.4762},
{"x":-60,"y":5700,"v":1.4767},{"x":340,"y":5700,"v":1.4767},{"x":740,"y":5700,"v":1.4767},{"x":1140,"y":5700,"v":1.4766},{"x":1540,"y":5700,"v":1.4765},{"x":1940,"y":5700,"v":1.4763},{"x":2340,"y":5700,"v":1.4761},{"x":2740,"y":5700,"v":1.4764},{"x":3140,"y":5700,"v":1.4766},{"x":3540,"y":5700,"v":1.4767},{"x":3940,"y":5700,"v":1.4767},{"x":4340,"y":5700,"v":1.4767},{"x":4740,"y":5700,"v":1.4767},{"x":5140,"y":5700,"v":1.4767},{"x":5540,"y":5700,"v":1.4766},{"x":5940,"y":5700,"v":1.4764},{"x":6340,"y":5700,"v":1.4761},{"x":6740,"y":5700,"v":1.4764},{"x":7140,"y":5700,"v":1.4766},{"x":7540,"y":5700,"v":1.4767},{"x":7940,"y":5700,"v":1.4767},{"x":8340,"y":5700,"v":1.4767},{"x":8740,"y":5700,"v":1.4767},{"x":9140,"y":5700,"v":1.4767},{"x":9540,"y":5700,"v":1.4766},{"x":9940,"y":5700,"v":1.4764},{"x":10340,"y":5700,"v":1.4761},{"x":10740,"y":5700,"v":1.4764},{"x":11140,"y":5700,"v":1.4766},{"x":11540,"y":5700,"v":1.4767},{"x":11940,"y":5700,"v":1.4767},{"x":12340,"y":5700,"v":1.4767},{"x":12740,"y":5700,"v":1.4767},{"x":13140,"y":5700,"v":1.4767},{"x":13540,"y":5700,"v":1.4766},{"x":13940,"y":5700,"v":1.4764},{"x":14340,"y":5700,"v":1.4761},{"x":14740,"y":5700,"v":1.4763},{"x":15140,"y":5700,"v":1.4765},{"x":15540,"y":5700,"v":1.4766},{"x":15940,"y":5700,"v":1.4767},{"x":16340,"y":5700,"v":1.4767},{"x":16740,"y":5700,"v":1.4767},
{"x":-60,"y":6000,"v":1.4771},{"x":340,"y":6000,"v":1.4771},{"x":740,"y":6000,"v":1.4771},{"x":1140,"y":6000,"v":1.4771},{"x":1540,"y":6000,"v":1.477},{"x":1940,"y":6000,"v":1.4769},{"x":2340,"y":6000,"v":1.4767},{"x":2740,"y":6000,"v":1.477},{"x":3140,"y":6000,"v":1.4772},{"x":3540,"y":6000,"v":1.4773},{"x":3940,"y":6000,"v":1.4773},{"x":4340,"y":6000,"v":1.4773},{"x":4740,"y":6000,"v":1.4773},{"x":5140,"y":6000,"v":1.4773},{"x":5540,"y":6000,"v":1.4772},{"x":5940,"y":6000,"v":1.477},{"x":6340,"y":6000,"v":1.4767},{"x":6740,"y":6000,"v":1.477},{"x":7140,"y":6000,"v":1.4772},{"x":7540,"y":6000,"v":1.4773},{"x":7940,"y":6000,"v":1.4773},{"x":8340,"y":6000,"v":1.4773},{"x":8740,"y":6000,"v":1.4773},{"x":9140,"y":6000,"v":1.4773},{"x":9540,"y":6000,"v":1.4772},{"x":9940,"y":6000,"v":1.477},{"x":10340,"y":6000,"v":1.4767},{"x":10740,"y":6000,"v":1.477},{"x":11140,"y":6000,"v":1.4772},{"x":11540,"y":6000,"v":1.4773},{"x":11940,"y":6000,"v":1.4773},{"x":12340,"y":6000,"v":1.4773},{"x":12740,"y":6000,"v":1.4773},{"x":13140,"y":6000,"v":1.4773},{"x":13540,"y":6000,"v":1.4772},{"x":13940,"y":6000,"v":1.477},{"x":14340,"y":6000,"v":1.4767},{"x":14740,"y":6000,"v":1.4769},{"x":15140,"y":6000,"v":1.477},{"x":15540,"y":6000,"v":1.4771},{"x":15940,"y":6000,"v":1.4771},{"x":16340,"y":6000,"v":1.4771},{"x":16740,"y":6000,"v":1.4771},
{"x":-60,"y":6300,"v":1.4777},{"x":340,"y":6300,"v":1.4777},{"x":740,"y":6300,"v":1.4777},{"x":1140,"y":6300,"v":1.4776},{"x":1540,"y":6300,"v":1.4775},{"x":1940,"y":6300,"v":1.4774},{"x":2340,"y":6300,"v":1.4773},{"x":2740,"y":6300,"v":1.4777},{"x":3140,"y":6300,"v":1.4779},{"x":3540,"y":6300,"v":1.478},{"x":3940,"y":6300,"v":1.4781},{"x":4340,"y":6300,"v":1.4781},{"x":4740,"y":6300,"v":1.4781},{"x":5140,"y":6300,"v":1.478},{"x":5540,"y":6300,"v":1.4779},{"x":5940,"y":6300,"v":1.4777},{"x":6340,"y":6300,"v":1.4773},{"x":6740,"y":6300,"v":1.4777},{"x":7140,"y":6300,"v":1.4779},{"x":7540,"y":6300,"v":1.478},{"x":7940,"y":6300,"v":1.4781},{"x":8340,"y":6300,"v":1.4781},{"x":8740,"y":6300,"v":1.4781},{"x":9140,"y":6300,"v":1.478},{"x":9540,"y":6300,"v":1.4779},{"x":9940,"y":6300,"v":1.4777},{"x":10340,"y":6300,"v":1.4773},{"x":10740,"y":6300,"v":1.4777},{"x":11140,"y":6300,"v":1.4779},{"x":11540,"y":6300,"v":1.478},{"x":11940,"y":6300,"v":1.4781},{"x":12340,"y":6300,"v":1.4781},{"x":12740,"y":6300,"v":1.4781},{"x":13140,"y":6300,"v":1.478},{"x":13540,"y":6300,"v":1.4779},{"x":13940,"y":6300,"v":1.4777},{"x":14340,"y":6300,"v":1.4773},{"x":14740,"y":6300,"v":1.4774},{"x":15140,"y":6300,"v":1.4775},{"x":15540,"y":6300,"v":1.4776},{"x":15940,"y":6300,"v":1.4777},{"x":16340,"y":6300,"v":1.4777},{"x":16740,"y":6300,"v":1.4777},
{"x":-60,"y":6600,"v":1.4781},{"x":340,"y":6600,"v":1.4781},{"x":740,"y":6600,"v":1.4781},{"x":1140,"y":6600,"v":1.4781},{"x":1540,"y":6600,"v":1.478},{"x":1940,"y":6600,"v":1.4779},{"x":2340,"y":6600,"v":1.4778},{"x":2740,"y":6600,"v":1.4782},{"x":3140,"y":6600,"v":1.4784},{"x":3540,"y":6600,"v":1.4785},{"x":3940,"y":6600,"v":1.4786},{"x":4340,"y":6600,"v":1.4786},{"x":4740,"y":6600,"v":1.4786},{"x":5140,"y":6600,"v":1.4785},{"x":5540,"y":6600,"v":1.4784},{"x":5940,"y":6600,"v":1.4782},{"x":6340,"y":6600,"v":1.4778},{"x":6740,"y":6600,"v":1.4782},{"x":7140,"y":6600,"v":1.4784},{"x":7540,"y":6600,"v":1.4785},{"x":7940,"y":6600,"v":1.4786},{"x":8340,"y":6600,"v":1.4786},{"x":8740,"y":6600,"v":1.4786},{"x":9140,"y":6600,"v":1.4785},{"x":9540,"y":6600,"v":1.4784},{"x":9940,"y":6600,"v":1.4782},{"x":10340,"y":6600,"v":1.4778},{"x":10740,"y":6600,"v":1.4782},{"x":11140,"y":6600,"v":1.4784},{"x":11540,"y":6600,"v":1.4785},{"x":11940,"y":6600,"v":1.4786},{"x":12340,"y":6600,"v":1.4786},{"x":12740,"y":6600,"v":1.4786},{"x":13140,"y":6600,"v":1.4785},{"x":13540,"y":6600,"v":1.4784},{"x":13940,"y":6600,"v":1.4782},{"x":14340,"y":6600,"v":1.4778},{"x":14740,"y":6600,"v":1.4779},{"x":15140,"y":6600,"v":1.478},{"x":15540,"y":6600,"v":1.4781},{"x":15940,"y":6600,"v":1.4781},{"x":16340,"y":6600,"v":1.4781},{"x":16740,"y":6600,"v":1.4781},
{"x":-60,"y":6900,"v":1.4777},{"x":340,"y":6900,"v":1.4777},{"x":740,"y":6900,"v":1.4777},{"x":1140,"y":6900,"v":1.4776},{"x":1540,"y":6900,"v":1.4775},{"x":1940,"y":6900,"v":1.4774},{"x":2340,"y":6900,"v":1.4773},{"x":2740,"y":6900,"v":1.4777},{"x":3140,"y":6900,"v":1.4779},{"x":3540,"y":6900,"v":1.478},{"x":3940,"y":6900,"v":1.4781},{"x":4340,"y":6900,"v":1.4781},{"x":4740,"y":6900,"v":1.4781},{"x":5140,"y":6900,"v":1.478},{"x":5540,"y":6900,"v":1.4779},{"x":5940,"y":6900,"v":1.4777},{"x":6340,"y":6900,"v":1.4773},{"x":6740,"y":6900,"v":1.4777},{"x":7140,"y":6900,"v":1.4779},{"x":7540,"y":6900,"v":1.478},{"x":7940,"y":6900,"v":1.4781},{"x":8340,"y":6900,"v":1.4781},{"x":8740,"y":6900,"v":1.4781},{"x":9140,"y":6900,"v":1.478},{"x":9540,"y":6900,"v":1.4779},{"x":9940,"y":6900,"v":1.4777},{"x":10340,"y":6900,"v":1.4773},{"x":10740,"y":6900,"v":1.4777},{"x":11140,"y":6900,"v":1.4779},{"x":11540,"y":6900,"v":1.478},{"x":11940,"y":6900,"v":1.4781},{"x":12340,"y":6900,"v":1.4781},{"x":12740,"y":6900,"v":1.4781},{"x":13140,"y":6900,"v":1.478},{"x":13540,"y":6900,"v":1.4779},{"x":13940,"y":6900,"v":1.4777},{"x":14340,"y":6900,"v":1.4773},{"x":14740,"y":6900,"v":1.4774},{"x":15140,"y":6900,"v":1.4775},{"x":15540,"y":6900,"v":1.4776},{"x":15940,"y":6900,"v":1.4777},{"x":16340,"y":6900,"v":1.4777},{"x":16740,"y":6900,"v":1.4777},
{"x":-60,"y":7200,"v":1.4771},{"x":340,"y":7200,"v":1.4771},{"x":740,"y":7200,"v":1.4771},{"x":1140,"y":7200,"v":1.4771},{"x":1540,"y":7200,"v":1.477},{"x":1940,"y":7200,"v":1.4769},{"x":2340,"y":7200,"v":1.4767},{"x":2740,"y":7200,"v":1.477},{"x":3140,"y":7200,"v":1.4772},{"x":3540,"y":7200,"v":1.4773},{"x":3940,"y":7200,"v":1.4773},{"x":4340,"y":7200,"v":1.4773},{"x":4740,"y":7200,"v":1.4773},{"x":5140,"y":7200,"v":1.4773},{"x":5540,"y":7200,"v":1.4772},{"x":5940,"y":7200,"v":1.477},{"x":6340,"y":7200,"v":1.4767},{"x":6740,"y":7200,"v":1.477},{"x":7140,"y":7200,"v":1.4772},{"x":7540,"y":7200,"v":1.4773},{"x":7940,"y":7200,"v":1.4773},{"x":8340,"y":7200,"v":1.4773},{"x":8740,"y":7200,"v":1.4773},{"x":9140,"y":7200,"v":1.4773},{"x":9540,"y":7200,"v":1.4772},{"x":9940,"y":7200,"v":1.477},{"x":10340,"y":7200,"v":1.4767},{"x":10740,"y":7200,"v":1.477},{"x":11140,"y":7200,"v":1.4772},{"x":11540,"y":7200,"v":1.4773},{"x":11940,"y":7200,"v":1.4773},{"x":12340,"y":7200,"v":1.4773},{"x":12740,"y":7200,"v":1.4773},{"x":13140,"y":7200,"v":1.4773},{"x":13540,"y":7200,"v":1.4772},{"x":13940,"y":7200,"v":1.477},{"x":14340,"y":7200,"v":1.4767},{"x":14740,"y":7200,"v":1.4769},{"x":15140,"y":7200,"v":1.477},{"x":15540,"y":7200,"v":1.4771},{"x":15940,"y":7200,"v":1.4771},{"x":16340,"y":7200,"v":1.4771},{"x":16740,"y":7200,"v":1.4771},
{"x":-60,"y":7500,"v":1.4767},{"x":340,"y":7500,"v":1.4767},{"x":740,"y":7500,"v":1.4767},{"x":1140,"y":7500,"v":1.4766},{"x":1540,"y":7500,"v":1.4765},{"x":1940,"y":7500,"v":1.4763},{"x":2340,"y":7500,"v":1.4761},{"x":2740,"y":7500,"v":1.4764},{"x":3140,"y":7500,"v":1.4766},{"x":3540,"y":7500,"v":1.4767},{"x":3940,"y":7500,"v":1.4767},{"x":4340,"y":7500,"v":1.4767},{"x":4740,"y":7500,"v":1.4767},{"x":5140,"y":7500,"v":1.4767},{"x":5540,"y":7500,"v":1.4766},{"x":5940,"y":7500,"v":1.4764},{"x":6340,"y":7500,"v":1.4761},{"x":6740,"y":7500,"v":1.4764},{"x":7140,"y":7500,"v":1.4766},{"x":7540,"y":7500,"v":1.4767},{"x":7940,"y":7500,"v":1.4767},{"x":8340,"y":7500,"v":1.4767},{"x":8740,"y":7500,"v":1.4767},{"x":9140,"y":7500,"v":1.4767},{"x":9540,"y":7500,"v":1.4766},{"x":9940,"y":7500,"v":1.4764},{"x":10340,"y":7500,"v":1.4761},{"x":10740,"y":7500,"v":1.4764},{"x":11140,"y":7500,"v":1.4766},{"x":11540,"y":7500,"v":1.4767},{"x":11940,"y":7500,"v":1.4767},{"x":12340,"y":7500,"v":1.4767},{"x":12740,"y":7500,"v":1.4767},{"x":13140,"y":7500,"v":1.4767},{"x":13540,"y":7500,"v":1.4766},{"x":13940,"y":7500,"v":1.4764},{"x":14340,"y":7500,"v":1.4761},{"x":14740,"y":7500,"v":1.4763},{"x":15140,"y":7500,"v":1.4765},{"x":15540,"y":7500,"v":1.4766},{"x":15940,"y":7500,"v":1.4767},{"x":16340,"y":7500,"v":1.4767},{"x":16740,"y":7500,"v":1.4767},
{"x":-60,"y":7800,"v":1.4762},{"x":340,"y":7800,"v":1.4762},{"x":740,"y":7800,"v":1.4762},{"x":1140,"y":7800,"v":1.4761},{"x":1540,"y":7800,"v":1.476},{"x":1940,"y":7800,"v":1.4758},{"x":2340,"y":7800,"v":1.4755},{"x":2740,"y":7800,"v":1.4758},{"x":3140,"y":7800,"v":1.476},{"x":3540,"y":7800,"v":1.4761},{"x":3940,"y":7800,"v":1.4761},{"x":4340,"y":7800,"v":1.4761},{"x":4740,"y":7800,"v":1.4761},{"x":5140,"y":7800,"v":1.4761},{"x":5540,"y":7800,"v":1.476},{"x":5940,"y":7800,"v":1.4758},{"x":6340,"y":7800,"v":1.4755},{"x":6740,"y":7800,"v":1.4758},{"x":7140,"y":7800,"v":1.476},{"x":7540,"y":7800,"v":1.4761},{"x":7940,"y":7800,"v":1.4761},{"x":8340,"y":7800,"v":1.4761},{"x":8740,"y":7800,"v":1.4761},{"x":9140,"y":7800,"v":1.4761},{"x":9540,"y":7800,"v":1.476},{"x":9940,"y":7800,"v":1.4758},{"x":10340,"y":7800,"v":1.4755},{"x":10740,"y":7800,"v":1.4758},{"x":11140,"y":7800,"v":1.476},{"x":11540,"y":7800,"v":1.4761},{"x":11940,"y":7800,"v":1.4761},{"x":12340,"y":7800,"v":1.4761},{"x":12740,"y":7800,"v":1.4761},{"x":13140,"y":7800,"v":1.4761},{"x":13540,"y":7800,"v":1.476},{"x":13940,"y":7800,"v":1.4758},{"x":14340,"y":7800,"v":1.4755},{"x":14740,"y":7800,"v":1.4758},{"x":15140,"y":7800,"v":1.476},{"x":15540,"y":7800,"v":1.4761},{"x":15940,"y":7800,"v":1.4762},{"x":16340,"y":7800,"v":1.4762},{"x":16740,"y":7800,"v":1.4762},
{"x":-60,"y":8100,"v":1.4759},{"x":340,"y":8100,"v":1.4759},{"x":740,"y":8100,"v":1.4758},{"x":1140,"y":8100,"v":1.4757},{"x":1540,"y":8100,"v":1.4756},{"x":1940,"y":8100,"v":1.4753},{"x":2340,"y":8100,"v":1.4749},{"x":2740,"y":8100,"v":1.4752},{"x":3140,"y":8100,"v":1.4755},{"x":3540,"y":8100,"v":1.4756},{"x":3940,"y":8100,"v":1.4757},{"x":4340,"y":8100,"v":1.4757},{"x":4740,"y":8100,"v":1.4757},{"x":5140,"y":8100,"v":1.4756},{"x":5540,"y":8100,"v":1.4755},{"x":5940,"y":8100,"v":1.4752},{"x":6340,"y":8100,"v":1.4749},{"x":6740,"y":8100,"v":1.4752},{"x":7140,"y":8100,"v":1.4755},{"x":7540,"y":8100,"v":1.4756},{"x":7940,"y":8100,"v":1.4757},{"x":8340,"y":8100,"v":1.4757},{"x":8740,"y":8100,"v":1.4757},{"x":9140,"y":8100,"v":1.4756},{"x":9540,"y":8100,"v":1.4755},{"x":9940,"y":8100,"v":1.4752},{"x":10340,"y":8100,"v":1.4749},{"x":10740,"y":8100,"v":1.4752},{"x":11140,"y":8100,"v":1.4755},{"x":11540,"y":8100,"v":1.4756},{"x":11940,"y":8100,"v":1.4757},{"x":12340,"y":8100,"v":1.4757},{"x":12740,"y":8100,"v":1.4757},{"x":13140,"y":8100,"v":1.4756},{"x":13540,"y":8100,"v":1.4755},{"x":13940,"y":8100,"v":1.4752},{"x":14340,"y":8100,"v":1.4749},{"x":14740,"y":8100,"v":1.4753},{"x":15140,"y":8100,"v":1.4756},{"x":15540,"y":8100,"v":1.4757},{"x":15940,"y":8100,"v":1.4758},{"x":16340,"y":8100,"v":1.4759},{"x":16740,"y":8100,"v":1.4759}
]
},
"layer": [
{
"data": {"name": "coarse"},
"mark": {"type": "rect", "clip": true, "binSpacing": 0},
"encoding": {
"x": {"field": "x", "type": "quantitative", "bin": {"anchor": -260, "step": 400, "extent": [-260, 16940], "nice": false},
 "scale": {"domain": [0, 16680], "nice": false, "zero": false},
 "axis": {"title": "X Coordinate", "values": [0,2000,4000,6000,8000,10000,12000,14000,16000], "format": "d", "labelFlush": false, "labelOverlap": false, "ticks": false, "domain": false, "grid": false, "labelPadding": 14, "labelFont": "DejaVu Sans", "labelFontSize": 24, "labelColor": "#404040", "titleFont": "DejaVu Sans", "titleFontSize": 29, "titleFontWeight": "normal", "titleColor": "#000", "titleX": 354, "titleY": 88, "titleBaseline": "alphabetic", "titleAlign": "center"}},
"y": {"field": "y", "type": "quantitative", "bin": {"anchor": -300, "step": 600, "extent": [-300, 13500], "nice": false},
 "scale": {"domain": [0, 13250], "nice": false, "zero": false},
 "axis": {"title": "Y Coordinate", "values": [0,2000,4000,6000,8000,10000,12000], "format": "d", "labelFlush": false, "labelOverlap": false, "ticks": false, "domain": false, "grid": false, "labelPadding": 22, "labelFont": "DejaVu Sans", "labelFontSize": 24, "labelColor": "#404040", "titleFont": "DejaVu Sans", "titleFontSize": 24, "titleFontWeight": "normal", "titleColor": "#8a8a8a", "titleX": -149, "titleY": 270, "titleAngle": 270, "titleBaseline": "alphabetic", "titleAlign": "center"}},
"color": {"field": "v", "type": "quantitative",
 "scale": {"type": "linear", "domain": [1.4668,1.469,1.4706,1.4723,1.474,1.4753,1.4765,1.479,1.4816,1.4841,1.4866,1.4891,1.4917,1.4948,1.498,1.5002], "range": ["#ff0080","#ff2068","#ff4050","#f86040","#f47a30","#f09020","#ecb000","#d8d830","#c8f060","#a8f880","#88e8a8","#70d0d0","#60b0f8","#4080ff","#2848ff","#0010f0"], "interpolate": "rgb", "nice": false, "zero": false},
 "legend": {"type": "gradient", "title": null, "orient": "right", "offset": 15, "direction": "vertical", "gradientLength": 526, "gradientThickness": 32, "gradientStrokeWidth": 0, "values": [1.47,1.475,1.48,1.485,1.49,1.495,1.5], "labelExpr": "floor(datum.value*100+0.000001)/100 + ''", "labelOffset": 26, "labelFontSize": 23, "labelFont": "DejaVu Sans", "labelColor": "#404040", "padding": 0, "labelOverlap": false}}
}
},
{
"data": {"name": "coarse"},
"mark": {"type": "rect", "clip": true, "binSpacing": 0},
"encoding": {
"x": {"field": "x", "type": "quantitative", "bin": {"anchor": -260, "step": 400, "extent": [-260, 16940], "nice": false}},
"y": {"field": "y", "type": "quantitative", "bin": {"anchor": -300, "step": 600, "extent": [-300, 13500], "nice": false}},
"color": {"field": "v", "type": "quantitative"}
}
},
{
"data": {"name": "coarse"},
"mark": {"type": "rect", "clip": true, "binSpacing": 0},
"encoding": {
"x": {"field": "x", "type": "quantitative", "bin": {"anchor": -260, "step": 400, "extent": [-260, 16940], "nice": false}},
"y": {"field": "y", "type": "quantitative", "bin": {"anchor": -300, "step": 600, "extent": [-300, 13500], "nice": false}},
"color": {"field": "v", "type": "quantitative"}
}
},
{
"data": {"name": "fine"},
"mark": {"type": "rect", "clip": true, "binSpacing": 0},
"encoding": {
"x": {"field": "x", "type": "quantitative", "bin": {"anchor": -260, "step": 400, "extent": [-260, 16940], "nice": false}},
"y": {"field": "y", "type": "quantitative", "bin": {"anchor": 4950, "step": 300, "extent": [4950, 8250], "nice": false}},
"color": {"field": "v", "type": "quantitative"}
}
},
{
"data": {"name": "fine"},
"mark": {"type": "rect", "clip": true, "binSpacing": 0},
"encoding": {
"x": {"field": "x", "type": "quantitative", "bin": {"anchor": -260, "step": 400, "extent": [-260, 16940], "nice": false}},
"y": {"field": "y", "type": "quantitative", "bin": {"anchor": 4950, "step": 300, "extent": [4950, 8250], "nice": false}},
"color": {"field": "v", "type": "quantitative"}
}
},
{
"data": {"values": [
{"label": "ROW OF TSVs", "x": -6646, "y": 13958},
{"label": "AND C4 BUMPS", "x": -6646, "y": 12719},
{"label": "PERIPHERAL", "x": -6362, "y": 9179},
{"label": "CIRCUITS", "x": -6362, "y": 7915},
{"label": "ROW OF TSVs", "x": -6956, "y": 6347},
{"label": "AND C4 BUMPS", "x": -6956, "y": 5082},
{"label": "ROW OF TSVs", "x": -6646, "y": -228},
{"label": "AND C4 BUMPS", "x": -6646, "y": -1505}
]},
"mark": {"type": "text", "font": "DejaVu Sans", "fontSize": 35, "color": "#000", "align": "center", "baseline": "middle"},
"encoding": {
"x": {"field": "x", "type": "quantitative"},
"y": {"field": "y", "type": "quantitative"},
"text": {"field": "label"}
}
},
{
"data": {"values": [{"label": "VDD", "x": 20817, "y": 7548}]},
"mark": {"type": "text", "font": "DejaVu Sans", "fontSize": 28, "color": "#000", "align": "center", "baseline": "middle", "angle": 270},
"encoding": {
"x": {"field": "x", "type": "quantitative"},
"y": {"field": "y", "type": "quantitative"},
"text": {"field": "label"}
}
}
]
}
